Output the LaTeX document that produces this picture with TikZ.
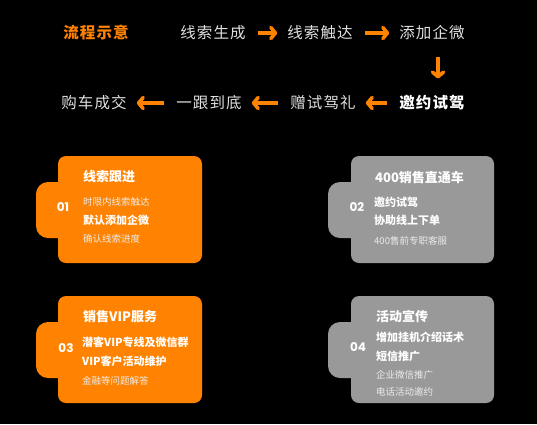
\documentclass[tikz,border=0pt]{standalone}
\usepackage{fontspec}
\setmainfont{Noto Sans CJK SC}
\newfontfamily\numfont{Poppins}
\definecolor{flowtext}{RGB}{224,224,224}
\definecolor{cardorange}{RGB}{255,131,0}
\definecolor{cardgray}{RGB}{153,153,153}
\usetikzlibrary{arrows.meta,positioning}

\begin{document}
\begin{tikzpicture}[x=1pt,y=-1pt,
  flowtxt/.style={inner sep=0pt,text=flowtext,font=\fontsize{15.5}{17}\selectfont\addfontfeature{LetterSpace=7}},
  flowarr/.style={draw=cardorange,line width=3.6pt,-{Straight Barb[length=4.5pt,width=11pt,round]},shorten <=12pt,shorten >=10pt},
  cardtitle/.style={anchor=west,inner sep=0pt,text=white,font=\fontsize{13}{15}\selectfont\bfseries},
  cardbold/.style={anchor=west,inner sep=0pt,text=white,font=\fontsize{11}{13}\selectfont\bfseries},
  cardsmall/.style={anchor=west,inner sep=0pt,text=white!92!black,font=\fontsize{9.5}{11}\selectfont},
  cardnum/.style={inner sep=0pt,text=white,font=\numfont\fontsize{12}{14}\selectfont\bfseries}]
  \fill[black] (0,0) rectangle (537,424);
  \useasboundingbox (0,0) rectangle (537,424);
  % Flow
  \node[inner sep=0pt,text=cardorange,font=\fontsize{15.5}{17}\selectfont\bfseries\addfontfeature{LetterSpace=7}] (flowtitle) at (96,33) {流程示意};
  \node[flowtxt] (gen) at (213,33) {线索生成};
  \node[flowtxt] (reach) at (320,33) {线索触达};
  \node[flowtxt] (add) at (432,33) {添加企微};
  \node[flowtxt,text=white,font=\fontsize{15.5}{17}\selectfont\bfseries\addfontfeature{LetterSpace=7}] (invite) at (432,103) {邀约试驾};
  \node[flowtxt] (gift) at (323,103) {赠试驾礼};
  \node[flowtxt] (follow) at (209,103) {一跟到底};
  \node[flowtxt] (deal) at (94,103) {购车成交};
  \draw[flowarr] (gen)--(reach);
  \draw[flowarr] (reach)--(add);
  \draw[flowarr,shorten <=17pt,shorten >=17pt] ([xshift=6pt]add.south)--([xshift=6pt]invite.north);
  \draw[flowarr] (invite)--(gift);
  \draw[flowarr] (gift)--(follow);
  \draw[flowarr] (follow)--(deal);
  % Card 01
  \fill[cardorange,rounded corners=8pt] (58,156) rectangle (202,263);
  \fill[cardorange,rounded corners=12pt] (36,182) rectangle (80,238);
  \node[cardnum] (n1) at (63,207) {01};
  \node[cardtitle] (c1title) at (83,177) {线索跟进};
  \node[cardsmall] (c1a) at (83,202) {时限内线索触达};
  \node[cardbold] (c1b) at (83,220) {默认添加企微};
  \node[cardsmall] (c1c) at (83,239) {确认线索进度};
  % Card 02
  \fill[cardgray,rounded corners=8pt] (351,156) rectangle (494,263);
  \fill[cardgray,rounded corners=12pt] (328,182) rectangle (372,238);
  \node[cardnum] (n2) at (357,207) {02};
  \node[cardtitle] (c2title) at (375,177) {400销售直通车};
  \node[cardbold] (c2a) at (374,202) {邀约试驾};
  \node[cardbold] (c2b) at (374,220) {协助线上下单};
  \node[cardsmall] (c2c) at (374,241) {400售前专职客服};
  % Card 03
  \fill[cardorange,rounded corners=8pt] (58,296) rectangle (202,403);
  \fill[cardorange,rounded corners=12pt] (36,322) rectangle (80,378);
  \node[cardnum] (n3) at (66,348) {03};
  \node[cardtitle] (c3title) at (83,317) {销售VIP服务};
  \node[cardbold] (c3a) at (82,342) {潜客VIP专线及微信群};
  \node[cardbold] (c3b) at (82,361) {VIP客户活动维护};
  \node[cardsmall] (c3c) at (82,381) {金融等问题解答};
  % Card 04
  \fill[cardgray,rounded corners=8pt] (351,296) rectangle (494,403);
  \fill[cardgray,rounded corners=12pt] (328,322) rectangle (372,378);
  \node[cardnum] (n4) at (358,347) {04};
  \node[cardtitle] (c4title) at (376,317) {活动宣传};
  \node[cardbold] (c4a) at (376,337) {增加挂机介绍话术};
  \node[cardbold] (c4b) at (376,356) {短信推广};
  \node[cardsmall] (c4c) at (376,375) {企业微信推广};
  \node[cardsmall] (c4d) at (376,392) {电话活动邀约};
\end{tikzpicture}
\end{document}
